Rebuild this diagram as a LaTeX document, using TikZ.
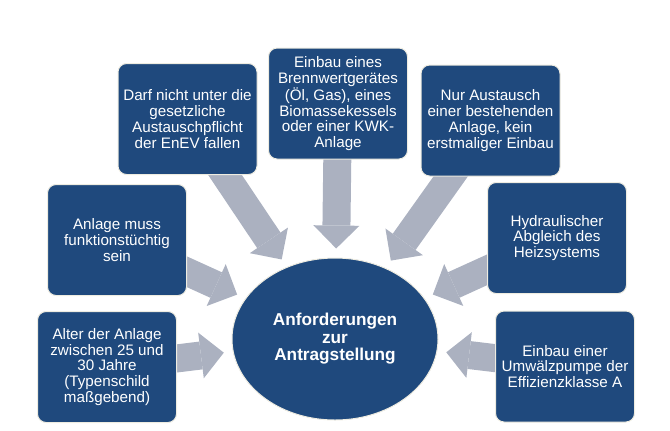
\documentclass[tikz,border=0pt]{standalone}
\usepackage{fontspec}
\setmainfont{Liberation Sans}
\usepackage{tikz}
\usetikzlibrary{arrows.meta,backgrounds,shapes.geometric}
\usepackage{xcolor}
\definecolor{boxblue}{RGB}{31,73,125}
\definecolor{boxedge}{RGB}{238,236,225}
\definecolor{arrowgray}{RGB}{171,177,192}

\begin{document}
\begin{tikzpicture}[x=0.75pt, y=-0.75pt, line join=round,
  req/.style={draw=boxedge, line width=0.75pt, fill=boxblue, rounded corners=6.5pt, minimum width=104.25pt, minimum height=83.25pt, inner sep=2pt, align=center, text=white, font=\fontsize{11.4}{11.8}\selectfont},
  goal/.style={ellipse, draw=boxedge, line width=0.75pt, fill=boxblue, minimum width=154.5pt, minimum height=121.5pt, inner sep=0pt, align=center, text=white, font=\fontsize{12.9}{13.1}\selectfont\bfseries},
  feed/.style={arrowgray, line width=21pt, shorten >=6.75pt, -{Triangle[length=17.25pt, width=34.5pt, line width=0pt]}}]
 \useasboundingbox (0,0) rectangle (670,430);
 % Mitte
 \node[goal] (ziel) at (335,339) {Anforderungen\\zur\\Antragstellung};
 % Voraussetzungen
 \node[req] (enev) at (187.5,119) {Darf nicht unter die\\gesetzliche\\Austauschpflicht\\der EnEV fallen};
 \node[req] (brennwert) at (338,103.5) {Einbau eines\\Brennwertgerätes\\(Öl, Gas), eines\\Biomassekessels\\oder einer KWK-\\Anlage};
 \node[req] (austausch) at (490.5,120.5) {Nur Austausch\\einer bestehenden\\Anlage, kein\\erstmaliger Einbau};
 \node[req] (funktion) at (117,240) {Anlage muss\\funktionstüchtig\\sein};
 \node[req] (abgleich) at (557,238) {Hydraulischer\\Abgleich des\\Heizsystems};
 \node[req] (alter) at (107,367) {Alter der Anlage\\zwischen 25 und\\30 Jahre\\(Typenschild\\maßgebend)};
 \node[req] (pumpe) at (565,366.5) {Einbau einer\\Umwälzpumpe der\\Effizienzklasse A};
 % Pfeile
 \begin{scope}[on background layer]
 \foreach \n in {enev,brennwert,austausch,funktion,abgleich,alter,pumpe}
  \draw[feed] (\n.center) -- (ziel);
 \end{scope}
\end{tikzpicture}
\end{document}
